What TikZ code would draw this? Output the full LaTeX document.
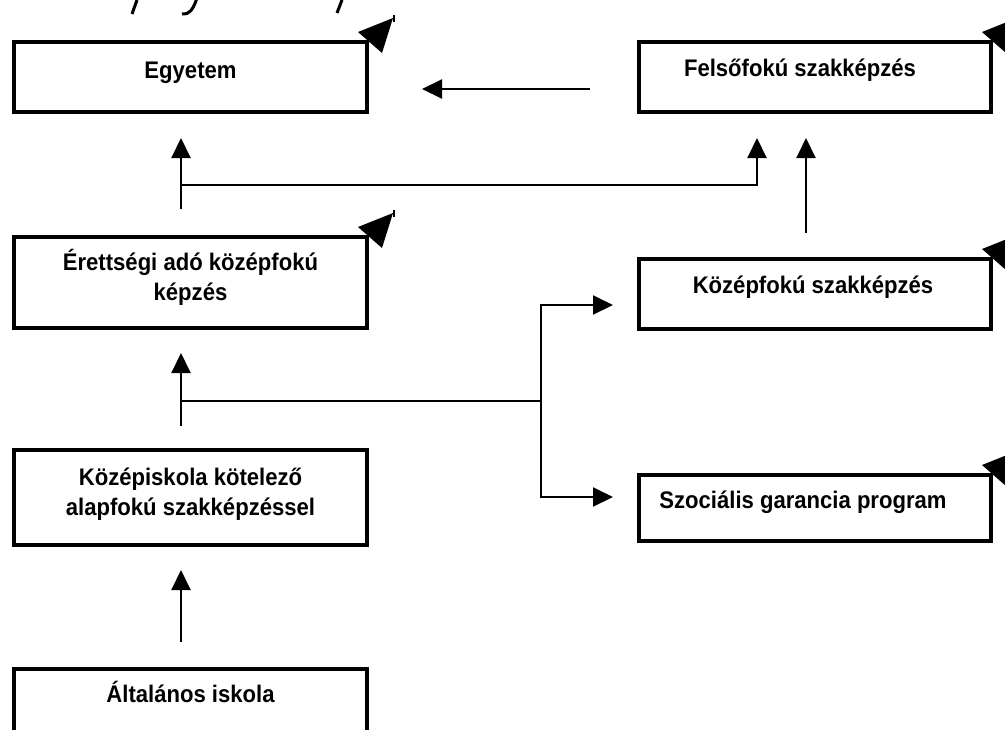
\documentclass[tikz,border=0pt]{standalone}
\usepackage{fontspec}
\setmainfont{Liberation Sans}
\newfontfamily\boxfont[FakeStretch=0.92]{Liberation Sans}
\usetikzlibrary{arrows.meta,calc}
\begin{document}
\begin{tikzpicture}[x=1pt,y=-1pt,
  box/.style={draw, line width=4pt, minimum width=353pt, anchor=north west, inner sep=0pt, outer sep=0pt},
  lbl/.style={anchor=base, font=\boxfont\fontsize{24}{30}\selectfont\bfseries, align=center, inner sep=0pt},
  conn/.style={line width=2pt, -{Triangle[length=20pt,width=19pt]}},
  wire/.style={line width=2pt},
  glitch/.style={fill=black}]
\useasboundingbox (0,0) rectangle (1005,729);
\clip (0,0) rectangle (1005,729);
% boxes
\node[box, minimum height=70pt] (egy) at (14,42) {};
\node[box, minimum width=352pt, minimum height=70pt] (fel) at (639,42) {};
\node[box, minimum height=91pt] (ere) at (14,237) {};
\node[box, minimum width=352pt, minimum height=70pt] (kozs) at (639,259) {};
\node[box, minimum width=352pt, minimum height=66pt] (szoc) at (639,475) {};
\node[box, minimum height=95pt] (kozi) at (14,450) {};
\node[box, minimum height=110pt] (alt) at (14,669) {};
% texts (base anchor = baseline of the last line)
\node[lbl] (egyT) at ($(egy.north)+(0,36)$) {Egyetem};
\node[lbl] (felT) at ($(fel.north)+(-15,34)$) {Felsőfokú szakképzés};
\node[lbl] (ereT) at ($(ere.north)+(0,63)$) {Érettségi adó középfokú\\képzés};
\node[lbl] (kozsT) at ($(kozs.north)+(-2,34)$) {Középfokú szakképzés};
\node[lbl] (szocT) at ($(szoc.north)+(-12,33)$) {Szociális garancia program};
\node[lbl] (koziT) at ($(kozi.north)+(0,65)$) {Középiskola kötelező\\alapfokú szakképzéssel};
\node[lbl] (altT) at ($(alt.north)+(0,33)$) {Általános iskola};
% connector end points
\coordinate (felOut) at (590,89);
\coordinate (egyIn) at (422,89);
\coordinate (ereOut) at (181,209);
\coordinate (egyIn2) at (181,138);
\coordinate (j1) at (181,185);
\coordinate (felIn) at (757,138);
\coordinate (kozsOut) at (806,233);
\coordinate (felIn2) at (806,138);
\coordinate (koziOut) at (181,426);
\coordinate (ereIn) at (181,353);
\coordinate (j2) at (181,401);
\coordinate (j3) at (541,401);
\coordinate (kozsIn) at (613,305);
\coordinate (szocIn) at (613,497);
\coordinate (altOut) at (181,642);
\coordinate (koziIn) at (181,570);
% connectors
\draw[conn] (felOut) -- (egyIn);
\draw[conn] (ereOut) -- (egyIn2);
\draw[conn] (j1) -| (felIn);
\draw[conn] (kozsOut) -- (felIn2);
\draw[conn] (koziOut) -- (ereIn);
\draw[wire] (j2) -- (j3);
\draw[conn] (j3) |- (kozsIn);
\draw[conn] (j3) |- (szocIn);
\draw[conn] (altOut) -- (koziIn);
% stray arrowheads at box corners
\foreach \n in {egy,ere,fel,kozs,szoc}{
  \fill[glitch] ($(\n.north east)+(2,-2)$) ++(-11,-8) -- ++(35,-14) -- ++(-11,35) -- cycle;
  \draw[line width=1.5pt] ($(\n.north east)+(2,-2)+(25,-25)$) -- ++(0,7);
}
% descenders of cut-off italic text at the top
\draw[line width=3pt] (137,0) -- (132,14);
\draw[line width=3pt] (197,-2) .. controls (193,10) and (189,15) .. (182,14);
\draw[line width=3pt] (342,0) -- (337,13);
\end{tikzpicture}
\end{document}
